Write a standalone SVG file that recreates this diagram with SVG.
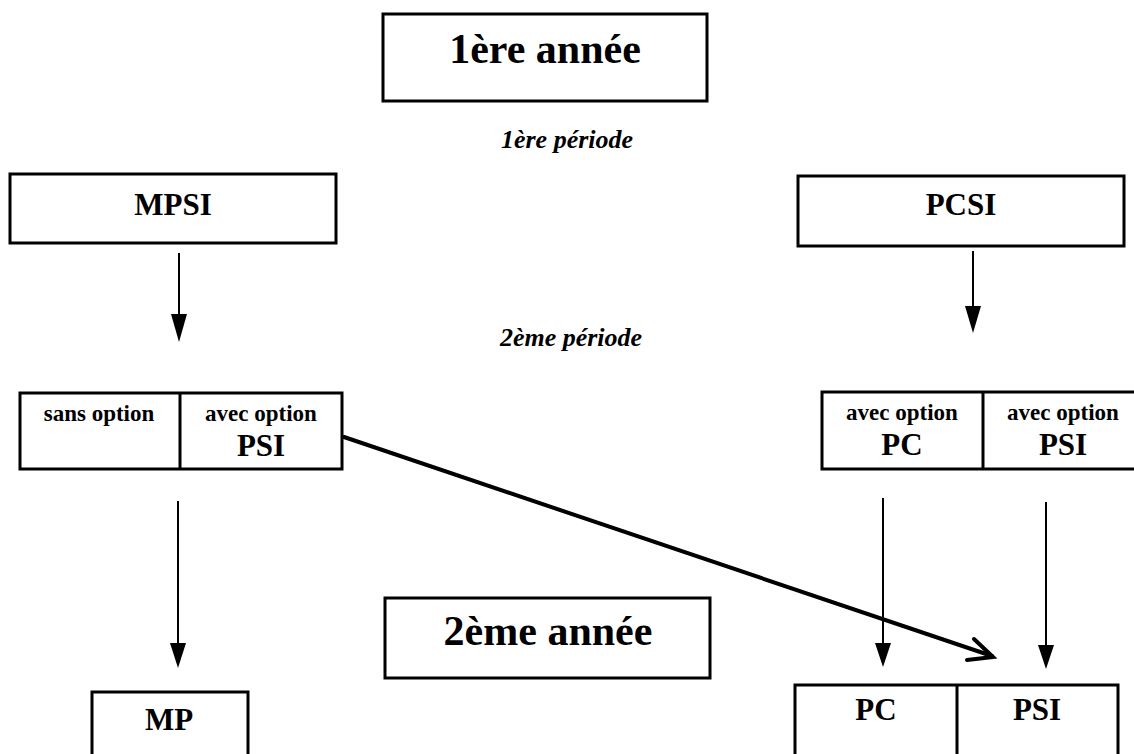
<svg xmlns="http://www.w3.org/2000/svg" width="1134" height="754" viewBox="0 0 1134 754">
<defs>
<style>
.box{fill:#fff;stroke:#000;stroke-width:3}
.div{stroke:#000;stroke-width:3}
.t{font-family:"Liberation Serif","Times New Roman",serif;font-weight:bold;fill:#000;text-anchor:middle}
.big{font-size:42px}
.mid{font-size:31px}
.sm{font-size:23px}
.per{font-size:26px;font-style:italic}
.arr{stroke:#000;stroke-width:2;fill:none}
.head{fill:#000}
.diag{stroke:#000;stroke-width:4;fill:none;stroke-linecap:round;stroke-linejoin:miter}
</style>
</defs>
<rect width="1134" height="754" fill="#fff"/>
<g id="annee1">
<rect class="box" x="383" y="14" width="324" height="87"/>
<text class="t big" x="545" y="63">1ère année</text>
</g>
<g id="periode1">
<text class="t per" x="567" y="148">1ère période</text>
</g>
<g id="mpsi">
<rect class="box" x="10" y="174" width="326" height="69"/>
<text class="t mid" x="173" y="215">MPSI</text>
</g>
<g id="pcsi">
<rect class="box" x="798" y="176" width="326" height="70"/>
<text class="t mid" x="961" y="215">PCSI</text>
</g>
<g id="periode2">
<text class="t per" x="571" y="346">2ème période</text>
</g>
<g id="mpsi-options">
<rect class="box" x="20" y="393" width="322" height="76"/>
<line class="div" x1="180" y1="393" x2="180" y2="469"/>
<text class="t sm" x="99" y="421">sans option</text>
<text class="t sm" x="261" y="421">avec option</text>
<text class="t mid" x="261" y="456">PSI</text>
</g>
<g id="pcsi-options">
<rect class="box" x="822" y="392" width="322" height="77"/>
<line class="div" x1="983" y1="392" x2="983" y2="469"/>
<text class="t sm" x="902" y="420">avec option</text>
<text class="t mid" x="902" y="455">PC</text>
<text class="t sm" x="1063" y="420">avec option</text>
<text class="t mid" x="1063" y="455">PSI</text>
</g>
<g id="annee2">
<rect class="box" x="385" y="598" width="325" height="80"/>
<text class="t big" x="548" y="645">2ème année</text>
</g>
<g id="mp">
<rect class="box" x="92" y="692" width="156" height="80"/>
<text class="t mid" x="169" y="730">MP</text>
</g>
<g id="pc-psi">
<rect class="box" x="795" y="685" width="323" height="90"/>
<line class="div" x1="957" y1="685" x2="957" y2="754"/>
<text class="t mid" x="876" y="720">PC</text>
<text class="t mid" x="1037" y="720">PSI</text>
</g>
<g id="connectors">
<line class="arr" x1="179" y1="253" x2="179" y2="318"/>
<polygon class="head" points="171,314 187,314 179,342"/>
<line class="arr" x1="973" y1="251" x2="973" y2="310"/>
<polygon class="head" points="965,306 981,306 973,333"/>
<line class="arr" x1="178" y1="501" x2="178" y2="646"/>
<polygon class="head" points="170,643 186,643 178,668"/>
<line class="arr" x1="883" y1="498" x2="883" y2="646"/>
<polygon class="head" points="875,643 891,643 883,667"/>
<line class="arr" x1="1046" y1="502" x2="1046" y2="648"/>
<polygon class="head" points="1038,645 1054,645 1046,669"/>
<line class="diag" x1="344" y1="437" x2="992" y2="656"/>
<polyline class="diag" points="974,639 993,657 967,660"/>
</g>
</svg>
